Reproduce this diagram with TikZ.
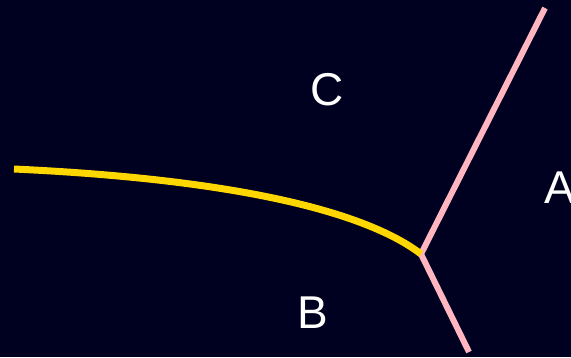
\documentclass[tikz,border=0pt]{standalone}
\usepackage{fontspec}
\setmainfont{Liberation Sans}
\usetikzlibrary{positioning}
\definecolor{navy}{HTML}{000020}
\definecolor{gold}{HTML}{FFD700}
\definecolor{rose}{HTML}{FFB6C1}
\tikzset{
    region/.style = {text=white, font=\fontsize{46}{46}\selectfont, inner sep=0pt},
    border/.style = {rose, line width=6pt},
    curve/.style = {gold, line width=7pt}
}

\begin{document}
\begin{tikzpicture}[x=1pt,y=-1pt]
		\fill [navy] (0,0) rectangle (571,357);
		\useasboundingbox (0,0) rectangle (571,357);
		\coordinate (j) at (421,254);
		\coordinate (top) at (545,8);
		\coordinate (bot) at (469,352);
		\coordinate (left) at (14,169);
		\draw [border] (j) -- (top);
		\draw [border] (j) -- (bot);
		\draw [curve] (left) .. controls (250,180) and (370,215) .. (j);
		\node (C) [region] at (327,90) {C};
		\node (B) [region] at (313,313) {B};
		\node (A) [region,anchor=west] at (544,188) {A};
	\end{tikzpicture}
\end{document}
